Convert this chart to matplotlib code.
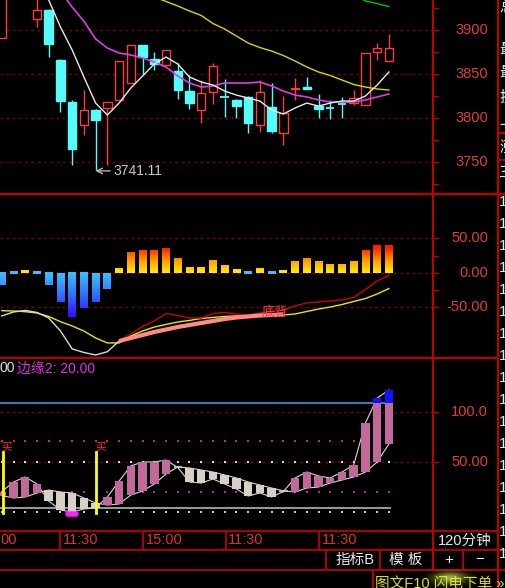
import numpy as np
import matplotlib
matplotlib.use("Agg")
import matplotlib.pyplot as plt
from matplotlib.patches import Rectangle
from matplotlib.colors import LinearSegmentedColormap

plt.rcParams['font.family'] = ['Liberation Sans', 'Noto Sans CJK SC']

# ---------------- data ----------------
opens = [3890.9, 3945.0, 3950.0, 3912.5, 3922.7, 3865.9, 3818.2, 3792.0, 3809.1, 3811.4,
         3820.5, 3839.8, 3883.0, 3867.0, 3860.2, 3853.4, 3830.7, 3809.1, 3829.5, 3823.5,
         3820.5, 3823.9, 3792.0, 3812.5, 3783.0, 3833.0, 3835.2, 3813.6, 3811.8, 3816.2,
         3817.0, 3814.8, 3875.0, 3864.8]
highs = [3945.0, 3956.0, 3954.0, 3936.0, 3924.0, 3867.5, 3820.5, 3831.8, 3810.2, 3818.2,
         3864.8, 3883.0, 3883.0, 3875.0, 3877.3, 3862.5, 3848.9, 3843.2, 3862.5, 3844.3,
         3821.6, 3825.0, 3843.2, 3839.8, 3825.0, 3845.5, 3846.6, 3827.3, 3820.5, 3823.9,
         3831.8, 3873.9, 3885.2, 3895.5]
lows = [3890.9, 3938.0, 3936.0, 3903.4, 3869.3, 3806.8, 3746.6, 3780.7, 3741.11, 3746.6,
        3820.5, 3839.8, 3848.9, 3854.5, 3860.2, 3821.6, 3810.2, 3794.3, 3815.9, 3801.1,
        3800.0, 3783.0, 3784.1, 3783.0, 3769.3, 3820.5, 3833.0, 3800.0, 3798.9, 3800.0,
        3814.8, 3814.8, 3865.9, 3864.5]
closes = [3940.0, 3952.0, 3940.0, 3922.7, 3884.1, 3819.3, 3764.8, 3809.1, 3797.7, 3818.2,
          3864.8, 3883.0, 3869.3, 3861.4, 3877.3, 3831.8, 3817.0, 3828.4, 3859.1, 3822.7,
          3813.6, 3794.3, 3829.5, 3785.2, 3805.7, 3834.1, 3833.0, 3810.2, 3811.4, 3815.9,
          3822.7, 3873.9, 3879.5, 3879.5]

ma_white = [3960, 3957, 3953, 3947, 3934, 3903.4, 3877.3, 3846.6, 3817.0, 3803.4,
            3817.0, 3834.1, 3847.7, 3861.4, 3869.3, 3861.4, 3846.6, 3840.9, 3837.5, 3830.7,
            3826.1, 3822.7, 3819.3, 3809.1, 3804.5, 3811.4, 3817.0, 3813.6, 3817.0, 3819.3,
            3819.3, 3825.0, 3837.5, 3852.3]
ma_magenta = [3990, 3985, 3978, 3968, 3957, 3944, 3926, 3910, 3889.8, 3879.5,
              3873.9, 3871.6, 3868.2, 3863.6, 3858.0, 3847.7, 3839.8, 3835.2, 3836.4, 3839.8,
              3839.8, 3839.8, 3840.9, 3836.4, 3830.7, 3826.1, 3823.9, 3820.5, 3818.2, 3818.2,
              3818.2, 3820.5, 3823.9, 3827.3]
ma_yellow = [4010, 4005, 3998, 3990, 3983, 3977, 3971, 3965, 3960, 3955,
             3950, 3946, 3942, 3937.5, 3932.4, 3927.3, 3921.6, 3916.5, 3907.4, 3901.1,
             3893.2, 3885.2, 3880.1, 3876.1, 3871.0, 3864.8, 3858.0, 3852.3, 3848.3, 3843.2,
             3838.1, 3835.2, 3833.0, 3831.8]
ma_green = [np.nan] * 29 + [3946, 3940, 3933, 3930, 3926.7]

price_ticks = [3900, 3850, 3800, 3750]
price_label_low = 3741.11

macd_hist = [-18, -2, 4, -2, -18, -42, -64, -51, -42, -23,
             7, 29, 32, 32, 36, 21, 8, 8, 18, 11,
             5, -2, 7, -1, 3, 16, 21, 16, 13, 13,
             16, 32, 40, 40]
macd_dif = [-62.3, -56.5, -54.3, -57.2, -65.2, -84.0, -110.0, -115.2, -118.8, -114.1,
            -98.6, -94.2, -89.9, -85.5, -81.9, -78.3, -75.4, -72.5, -69.6, -66.7,
            -64.5, -63.0, -61.6, -60.9, -60.1]
macd_dea = [-54.6, -55.1, -56.1, -58.0, -63.0, -70.6, -76.8, -84.1, -94.2, -101.4,
            -101.4, -91.3, -84.1, -78.3, -74.6, -71.0, -68.8, -65.9, -64.5, -63.0,
            -62.3, -61.6, -60.9, -60.9, -60.9, -59.4, -55.8, -52.2, -49.3, -45.7,
            -41.3, -37.0, -30.4, -22.5]
macd_red = [np.nan] * 10 + [-98.6, -88.4, -77.5, -69.6, -58.7, -61.6, -65.2, -65.2, -58.7, -57.2,
                            -59.4, -60.9, -58.0, -55.8, -53.6, -47.8, -43.5, -42.0, -40.6, -39.1,
                            -35.5, -23.9, -11.6, -3.6]
macd_ticks = [50, 0, -50]

kd_k = [20.0, 29.5, 34.5, 27.5, 10.5, 1.5, -0.5, 2.5, 3.5, 14.5,
        30.5, 45.5, 49.5, 49.5, 51.5, 44.0, 29.5, 28.5, 32.5, 27.5,
        22.5, 15.5, 18.5, 14.5, 20.0, 33.5, 39.5, 35.5, 33.5, 39.5,
        46.5, 88.5, 113.5, 121.5]
kd_d = [16.0, 13.5, 14.5, 18.5, 21.5, 19.5, 18.5, 13.5, 8.5, 6.5,
        7.5, 16.5, 20.5, 27.5, 37.5, 44.6, 43.5, 41.5, 39.5, 36.5,
        33.5, 29.5, 26.5, 23.5, 20.6, 19.5, 23.5, 24.5, 28.5, 31.5,
        34.5, 39.5, 49.5, 67.5]
kd_upper_edge = 108.5
kd_lower_edge = 3.5
kd_dot_levels = [71, 50, 20, 0]
kd_ticks = [100, 50]
buy_signals = [0, 8]
low_mark_index = 6

time_labels = ['00', '11:30', '15:00', '11:30', '11:30']

# ---------------- styling ----------------
W, H = 505, 588
BG = 'black'
RED = '#ff3c3c'
CYAN = '#54fcfc'
BORDER = '#c00000'
GRID = '#8a0000'
AXTXT = '#e03c3c'
GRID_LS = (0, (2, 3))

fig = plt.figure(figsize=(W / 100, H / 100), dpi=100, facecolor=BG)


def px_axes(x0, y0, x1, y1, z=1):
    ax = fig.add_axes([x0 / W, 1 - y1 / H, (x1 - x0) / W, (y1 - y0) / H], zorder=z)
    ax.set_facecolor(BG)
    ax.set_axis_off()
    return ax


n = len(opens)
idx = np.arange(n)
XL = ((0 - 1.8) / 11.73, (432 - 1.8) / 11.73)
AX_R = 432.0
LABEL_X = 488.0 / AX_R
TICK_X = (AX_R + 6) / AX_R

# ---------------- price panel ----------------
axp = px_axes(0, 0, 432, 193)
bw = 0.72
for i in range(n):
    o, h, l, c = opens[i], highs[i], lows[i], closes[i]
    up = c >= o
    col = RED if up else CYAN
    top, bot = max(o, c), min(o, c)
    axp.vlines(i, top, h, color=col, lw=1)
    axp.vlines(i, l, bot, color=col, lw=1)
    if top - bot < 0.9:
        axp.hlines(top, i - bw / 2, i + bw / 2, color=col, lw=1.3)
    else:
        axp.add_patch(Rectangle((i - bw / 2, bot), bw, top - bot,
                                facecolor=BG if up else col, edgecolor=col, lw=1))

axp.plot(idx, ma_yellow, color='#d8d800', lw=1)
axp.plot(idx, ma_magenta, color='#e03ce0', lw=1.2)
axp.plot(idx, ma_white, color='#e8e8e8', lw=1)
axp.plot(idx, ma_green, color='#00c800', lw=1)

for p in price_ticks:
    axp.axhline(p, color=GRID, lw=0.9, ls=GRID_LS, zorder=0)
    axp.text(LABEL_X, p, f'{p}', transform=axp.get_yaxis_transform(), ha='right',
             va='center', color=AXTXT, fontsize=10.5, clip_on=False)
for p in range(3725, 3935, 25):
    axp.plot([1.0, TICK_X], [p, p], transform=axp.get_yaxis_transform(),
             color=BORDER, lw=1, clip_on=False)

low_i = int(np.argmin(lows))
axp.annotate(f'{price_label_low:.2f}', xy=(low_i, price_label_low - 1.2),
             xytext=(12.5, 0), textcoords='offset points', color='#c8c8c8',
             fontsize=10, va='center', ha='left',
             arrowprops=dict(arrowstyle='->', color='#c8c8c8', lw=0.9,
                             shrinkA=0, shrinkB=0))
axp.set_xlim(*XL)
axp.set_ylim(3714.8, 3934.1)

# ---------------- MACD panel ----------------
axm = px_axes(0, 193, 432, 358)
pos_cmap = LinearSegmentedColormap.from_list('pos', ['#ffee00', '#ff9a00', '#ff1e00'])
neg_cmap = LinearSegmentedColormap.from_list('neg', ['#3cc0ff', '#2f74ff', '#3a10ff'])
hw = 0.66
for i, v in enumerate(macd_hist):
    m = 64
    if v >= 0:
        g = np.linspace(0, v, m) / 36.0
        img = pos_cmap(np.clip(g, 0, 1))[:, None, :]
        ext = [i - hw / 2, i + hw / 2, 0, v]
    else:
        g = np.linspace(-v, 0, m) / 62.0
        img = neg_cmap(np.clip(g, 0, 1))[:, None, :]
        ext = [i - hw / 2, i + hw / 2, v, 0]
    if abs(v) < 2.5:
        ext[2], ext[3] = -1.5, 1.5
    axm.imshow(img, extent=ext, origin='lower', aspect='auto', interpolation='bilinear', zorder=2)

for t in macd_ticks:
    axm.axhline(t, color=GRID, lw=0.9, ls=GRID_LS, zorder=0)
    axm.text(LABEL_X, t, f'{t:.2f}', transform=axm.get_yaxis_transform(), ha='right',
             va='center', color=AXTXT, fontsize=10.5, clip_on=False)
for t in range(-50, 75, 25):
    axm.plot([1.0, TICK_X], [t, t], transform=axm.get_yaxis_transform(),
             color=BORDER, lw=1, clip_on=False)

dif_idx = np.arange(len(macd_dif))
axm.plot(idx, macd_dea, color='#e8e800', lw=1, zorder=3)
axm.plot(idx, macd_red, color='#d00000', lw=1, zorder=3)
axm.plot(dif_idx[:11], macd_dif[:11], color='#d8d8d8', lw=1, zorder=4)
axm.plot(dif_idx[10:], macd_dif[10:], color='#ff8a8a', lw=3, zorder=4,
         solid_capstyle='butt')
axm.text(23.3, -57, '底背', color='#ff3a3a', fontsize=9.5, ha='center', va='center',
         zorder=5, family=['Noto Sans CJK SC'])
axm.set_xlim(*XL)
axm.set_ylim(-123.2, 115.9)

# ---------------- KD box panel ----------------
axk = px_axes(0, 358, 432, 530)
PINK = '#c1699b'
BEIGE = '#d8d0c4'
kw = 0.72
axk.plot(idx, kd_k, color='#d8d8d8', lw=0.8, zorder=2)
axk.plot(idx, kd_d, color='#d8d8d8', lw=0.8, zorder=2)
for i in range(n):
    k, d = kd_k[i], kd_d[i]
    top, bot = max(k, d), min(k, d)
    col = PINK if k > d else BEIGE
    if top - bot < 1:
        axk.hlines(top, i - kw / 2, i + kw / 2, color=col, lw=1.2, zorder=3)
        continue
    axk.add_patch(Rectangle((i - kw / 2, bot), kw, min(top, kd_upper_edge) - bot,
                            facecolor=col, edgecolor='none', zorder=3))
    if top > kd_upper_edge:
        axk.add_patch(Rectangle((i - kw / 2, kd_upper_edge), kw, top - kd_upper_edge,
                                facecolor='#0a14ff', edgecolor='none', zorder=3))

for t in kd_ticks:
    axk.axhline(t, color=GRID, lw=0.9, ls=GRID_LS, zorder=0)
    lab = f'{t:.1f}' if t >= 100 else f'{t:.2f}'
    axk.text(LABEL_X, t, lab, transform=axk.get_yaxis_transform(), ha='right',
             va='center', color=AXTXT, fontsize=10.5, clip_on=False)
    axk.plot([1.0, TICK_X], [t, t], transform=axk.get_yaxis_transform(),
             color=BORDER, lw=1, clip_on=False)

span = [XL[0], n - 0.9]
axk.plot(span, [kd_upper_edge] * 2, color='#3a8ad8', lw=1.3, zorder=1)
axk.plot(span, [kd_lower_edge] * 2, color='#a8a8a8', lw=1.3, zorder=1)
dot_cols = ['#d03030', '#d8d8d8', '#c020c0', '#c8c8c8']
for lv, dc in zip(kd_dot_levels, dot_cols):
    axk.plot(idx, [lv] * n, ls='none', marker='s', ms=1.6, mew=0, color=dc, zorder=1)

for b in buy_signals:
    axk.plot([b + 0.07, b + 0.07], [-1.5, 59.5], color='#ffff00', lw=2, zorder=4)
    axk.text(b + 0.45, 65, '买', color='#ff3030', fontsize=7.5, ha='center', va='center',
             zorder=5, family=['Noto Sans CJK SC'])
axk.plot([low_mark_index - 0.35, low_mark_index + 0.35], [-2.5, -2.5], color='#ff20ff',
         lw=4, solid_capstyle='round', zorder=4)
axk.set_xlim(*XL)
axk.set_ylim(-18.5, 153.5)

# ---------------- frame, captions and controls ----------------
ov = fig.add_axes([0, 0, 1, 1], zorder=10)
ov.set_facecolor('none')
ov.set_axis_off()
ov.set_xlim(0, W)
ov.set_ylim(H, 0)
ov.set_autoscale_on(False)


def hl(y, x0, x1, lw=1.3):
    ov.plot([x0, x1], [y, y], color=BORDER, lw=lw, solid_capstyle='butt')


def vl(x, y0, y1, lw=1.3):
    ov.plot([x, x], [y0, y1], color=BORDER, lw=lw, solid_capstyle='butt')


hl(193.5, 0, W, 1.6)
hl(358, 0, 497, 1.6)
hl(530.5, 0, 497)
hl(549.5, 0, W)
hl(570, 0, W)
hl(133, 497, W)
hl(160, 497, W)
vl(432.8, 0, 570, 1.5)
vl(497.5, 0, H, 1.5)
for x in (60, 143, 226, 319):
    vl(x, 530.5, 549.5)
for x in (326, 380, 463):
    vl(x, 549.5, 570)
vl(373, 570, H)

tx = [0, 63, 146, 228, 322]
for x, s in zip(tx, time_labels):
    ov.text(x, 540.5, s, color='#e03030', fontsize=10.5, ha='left', va='center')

ov.text(465, 540.5, '120分钟', color='#e8e8e8', fontsize=10.5, ha='center', va='center')
ov.text(355, 560, '指标B', color='#e8e8e8', fontsize=10.5, ha='center', va='center')
ov.text(406, 560, '模 板', color='#e8e8e8', fontsize=10.5, ha='center', va='center')
ov.text(449, 560, '+', color='#e8e8e8', fontsize=11, ha='center', va='center')
ov.text(480, 559, '−', color='#e8e8e8', fontsize=11, ha='center', va='center')
ov.text(375, 584, '图文F10 闪电下单 »', color='#e0e000', fontsize=10.5, ha='left',
        va='center')

ov.text(-1, 368.5, '00', color='#e0e0e0', fontsize=10, ha='left', va='center')
ov.text(17, 368.5, '边缘2: 20.00', color='#e030e0', fontsize=10, ha='left', va='center')

# glare on the lower status strip
gx, gy = np.meshgrid(np.linspace(-1, 1, 60), np.linspace(-1, 1, 24))
glow = np.zeros((24, 60, 4))
glow[..., 0], glow[..., 1], glow[..., 2] = 0.85, 0.92, 0.35
glow[..., 3] = 0.75 * np.exp(-(gx ** 2 * 3 + gy ** 2 * 2.5))
ov.imshow(glow, extent=[422, 478, H, 568], interpolation='bilinear', zorder=3)

# partially visible side column
side_chars = ['总', '最', '最', '换', '一', '涨', '三']
side_y = [8, 50, 73, 98, 126, 148, 173]
for s, y in zip(side_chars, side_y):
    ov.text(499, y, s, color='#e8e8e8', fontsize=11, ha='left', va='center')
for k in range(17):
    ov.text(499, 202 + 22 * k, '1.', color='#e8e8e8', fontsize=11, ha='left', va='center')

fig.savefig('out.png', dpi=100, facecolor=BG)
